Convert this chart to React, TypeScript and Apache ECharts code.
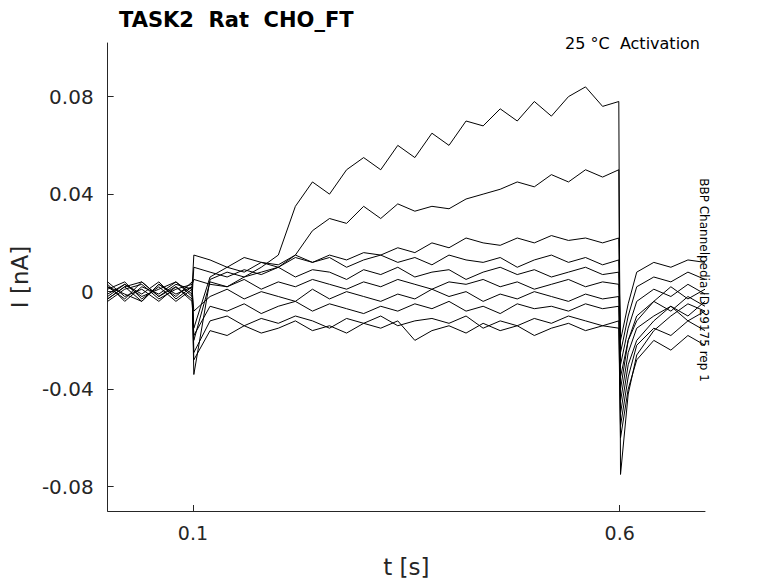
import { useEffect, useRef } from 'react';
import * as echarts from 'echarts';

// time points (s)
const times = [0, 0.02, 0.04, 0.06, 0.08, 0.099, 0.101, 0.12, 0.14, 0.16, 0.18, 0.2, 0.22, 0.24, 0.26, 0.28, 0.3, 0.32, 0.34, 0.36, 0.38, 0.4, 0.42, 0.44, 0.46, 0.48, 0.5, 0.52, 0.54, 0.56, 0.58, 0.599, 0.601, 0.61, 0.62, 0.64, 0.66, 0.68, 0.7];

// current traces (nA)
const traces: number[][] = [
    [0.002, -0.003, 0.004, -0.002, 0.003, 0.001, -0.034, 0.005, 0.008, 0.006, 0.01, 0.015, 0.035, 0.045, 0.04, 0.05, 0.055, 0.05, 0.06, 0.055, 0.065, 0.06, 0.07, 0.068, 0.075, 0.07, 0.078, 0.072, 0.08, 0.084, 0.076, 0.078, -0.075, -0.042, -0.026, -0.016, -0.01, -0.005, -0.008],
    [-0.003, 0.002, -0.004, 0.003, -0.001, 0.002, -0.02, 0.004, 0.002, 0.006, 0.008, 0.01, 0.015, 0.025, 0.03, 0.028, 0.035, 0.03, 0.036, 0.033, 0.035, 0.034, 0.038, 0.04, 0.042, 0.045, 0.043, 0.048, 0.045, 0.05, 0.047, 0.05, -0.05, -0.03, -0.02, -0.012, -0.006, -0.01, -0.004],
    [0.004, -0.002, 0.001, -0.004, 0.002, -0.003, -0.015, 0.006, 0.01, 0.008, 0.012, 0.01, 0.014, 0.012, 0.015, 0.013, 0.016, 0.015, 0.018, 0.016, 0.02, 0.018, 0.022, 0.02, 0.019, 0.022, 0.02, 0.023, 0.021, 0.022, 0.02, 0.022, -0.035, -0.02, -0.012, -0.004, 0.002, -0.003, 0.001],
    [-0.002, 0.003, -0.001, 0.004, -0.003, 0.002, 0.015, 0.013, 0.01, 0.014, 0.012, 0.011, 0.015, 0.012, 0.014, 0.01, 0.013, 0.015, 0.012, 0.014, 0.011, 0.015, 0.013, 0.012, 0.014, 0.01, 0.013, 0.015, 0.012, 0.014, 0.011, 0.013, -0.02, -0.005, 0.008, 0.012, 0.01, 0.013, 0.012],
    [0.003, -0.004, 0.002, -0.001, 0.004, -0.002, 0.01, 0.008, 0.006, 0.009, 0.007, 0.01, 0.006, 0.009, 0.008, 0.005, 0.009, 0.007, 0.01, 0.006, 0.008, 0.009, 0.005, 0.008, 0.01, 0.007, 0.009, 0.006, 0.008, 0.01, 0.007, 0.008, -0.025, -0.01, 0.002, 0.006, 0.004, 0.008, 0.005],
    [-0.004, 0.001, 0.003, -0.003, 0.001, 0.003, 0.005, 0.003, 0.002, 0.005, 0.001, 0.004, 0.002, 0.005, 0.003, 0.001, 0.004, 0.002, 0.005, 0.003, 0.001, 0.004, 0.003, 0.005, 0.002, 0.004, 0.001, 0.003, 0.005, 0.002, 0.004, 0.003, -0.03, -0.015, -0.004, 0.001, -0.002, 0.003, -0.001],
    [0.001, 0.004, -0.003, 0.002, -0.004, 0.001, -0.008, -0.002, 0.001, -0.003, 0.0, -0.002, -0.004, 0.001, -0.003, 0.0, -0.002, -0.004, -0.001, -0.003, 0.001, -0.002, 0.0, -0.004, -0.001, -0.003, 0.0, -0.002, -0.004, -0.001, -0.003, -0.002, -0.04, -0.02, -0.01, -0.004, -0.008, -0.002, -0.006],
    [-0.003, 0.002, 0.004, -0.002, 0.002, -0.004, -0.018, -0.006, -0.008, -0.005, -0.009, -0.006, -0.004, -0.008, -0.005, -0.007, -0.009, -0.006, -0.008, -0.005, -0.007, -0.004, -0.008, -0.006, -0.009, -0.005, -0.007, -0.006, -0.008, -0.005, -0.007, -0.006, -0.045, -0.025, -0.015, -0.01, -0.006, -0.012, -0.008],
    [0.002, -0.001, -0.004, 0.003, -0.002, 0.004, -0.025, -0.012, -0.01, -0.014, -0.011, -0.013, -0.01, -0.012, -0.015, -0.011, -0.013, -0.01, -0.014, -0.012, -0.011, -0.013, -0.01, -0.015, -0.012, -0.014, -0.011, -0.013, -0.01, -0.012, -0.014, -0.012, -0.055, -0.035, -0.022, -0.015, -0.018, -0.012, -0.016],
    [-0.001, 0.003, -0.002, 0.001, 0.004, -0.001, -0.028, -0.016, -0.018, -0.014, -0.017, -0.015, -0.012, -0.016, -0.014, -0.017, -0.013, -0.015, -0.012, -0.02, -0.016, -0.014, -0.017, -0.013, -0.016, -0.014, -0.018, -0.015, -0.013, -0.016, -0.014, -0.015, -0.06, -0.04, -0.028, -0.02, -0.024, -0.018, -0.022],
];

const yTicks = [-0.08, -0.04, 0, 0.04, 0.08];
const xTicks = [0.1, 0.6];

const font = 'DejaVu Sans';

const App = () => {
    const chartRef = useRef<HTMLDivElement>(null);

    useEffect(() => {
        if (!chartRef.current) return;
        const chart = echarts.init(chartRef.current, undefined, { renderer: 'svg' });

        const option: echarts.EChartsOption = {
            animation: false,
            backgroundColor: '#fff',
            textStyle: { fontFamily: font },
            grid: { left: 104, top: 43, right: 73, bottom: 71 },
            title: [
                {
                    text: 'TASK2  Rat  CHO_FT',
                    left: 114,
                    top: 4,
                    textStyle: { fontFamily: font, fontSize: 21, fontWeight: 'bold', color: '#000' },
                },
                {
                    text: '25 °C  Activation',
                    right: 73,
                    top: 30,
                    textStyle: { fontFamily: font, fontSize: 16, fontWeight: 'normal', color: '#000' },
                },
            ],
            graphic: [
                {
                    type: 'text',
                    x: 710,
                    y: 280,
                    rotation: -Math.PI / 2,
                    style: {
                        text: 'BBP Channelpedia ID 29175 rep 1',
                        font: `12px ${font}`,
                        fill: '#000',
                        align: 'center',
                        verticalAlign: 'top',
                    },
                },
            ],
            xAxis: {
                type: 'value',
                min: 0,
                max: 0.7,
                name: 't [s]',
                nameLocation: 'middle',
                nameGap: 44,
                nameTextStyle: { fontFamily: font, fontSize: 23, color: '#262626' },
                axisLine: { onZero: false, lineStyle: { color: '#262626' } },
                axisTick: { inside: true, length: 6, customValues: xTicks, lineStyle: { color: '#262626' } },
                axisLabel: { customValues: xTicks, fontSize: 19, color: '#262626', margin: 12 },
                splitLine: { show: false },
            },
            yAxis: {
                type: 'value',
                min: -0.09,
                max: 0.102,
                name: 'I [nA]',
                nameLocation: 'middle',
                nameGap: 72,
                nameTextStyle: { fontFamily: font, fontSize: 23, color: '#262626' },
                axisLine: { show: true, lineStyle: { color: '#262626' } },
                axisTick: { show: true, inside: true, length: 6, customValues: yTicks, lineStyle: { color: '#262626' } },
                axisLabel: {
                    customValues: yTicks,
                    fontSize: 20,
                    color: '#262626',
                    margin: 14,
                    formatter: (v: number) => (v === 0 ? '0' : String(Number(v.toFixed(2)))),
                },
                splitLine: { show: false },
            },
            series: traces.map((vals, i) => ({
                name: `trace${i}`,
                type: 'line' as const,
                showSymbol: false,
                symbol: 'none',
                lineStyle: { color: '#000', width: 1 },
                data: times.map((t, j) => [t, vals[j]]),
            })),
        };

        chart.setOption(option);
        return () => chart.dispose();
    }, []);

    return <div ref={chartRef} style={{ position: 'fixed', left: 0, top: 0, width: 778, height: 583 }} />;
};

export default App;
